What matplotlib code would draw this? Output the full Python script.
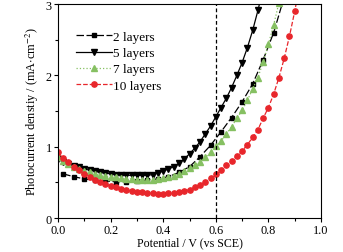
import numpy as np
import matplotlib
matplotlib.use("Agg")
import matplotlib.pyplot as plt
from matplotlib.ticker import MultipleLocator

plt.rcParams['font.family'] = ['Liberation Serif', 'DejaVu Serif']
plt.rcParams['mathtext.fontset'] = 'stix'

# 2 layers (sampled every 0.04 V)
x2 = [0.02, 0.06, 0.10, 0.14, 0.18, 0.22, 0.26, 0.30, 0.34, 0.38, 0.42, 0.46,
      0.50, 0.54, 0.58, 0.62, 0.66, 0.70, 0.74, 0.78, 0.82, 0.86]
y2 = [0.62, 0.58, 0.55, 0.53, 0.52, 0.51, 0.51, 0.52, 0.53, 0.55, 0.58, 0.64,
      0.72, 0.86, 1.02, 1.21, 1.41, 1.63, 1.88, 2.22, 2.60, 3.10]

# 5 layers (every 0.02 V)
x5 = [0.00, 0.02, 0.04, 0.06, 0.08, 0.10, 0.12, 0.14, 0.16, 0.18, 0.20, 0.22,
      0.24, 0.26, 0.28, 0.30, 0.32, 0.34, 0.36, 0.38, 0.40, 0.42, 0.44, 0.46,
      0.48, 0.50, 0.52, 0.54, 0.56, 0.58, 0.60, 0.62, 0.64, 0.66, 0.68, 0.70,
      0.72, 0.74, 0.76, 0.78]
y5 = [0.83, 0.79, 0.76, 0.73, 0.71, 0.69, 0.67, 0.66, 0.64, 0.63, 0.62, 0.61,
      0.60, 0.60, 0.60, 0.60, 0.60, 0.60, 0.61, 0.63, 0.66, 0.69, 0.72, 0.77,
      0.83, 0.90, 0.98, 1.07, 1.18, 1.29, 1.42, 1.55, 1.68, 1.83, 2.00, 2.18,
      2.39, 2.63, 2.91, 3.22]

# 7 layers
x7 = [0.00, 0.02, 0.04, 0.06, 0.08, 0.10, 0.12, 0.14, 0.16, 0.18, 0.20, 0.22,
      0.24, 0.26, 0.28, 0.30, 0.32, 0.34, 0.36, 0.38, 0.40, 0.42, 0.44, 0.46,
      0.48, 0.50, 0.52, 0.54, 0.56, 0.58, 0.60, 0.62, 0.64, 0.66, 0.68, 0.70,
      0.72, 0.74, 0.76, 0.78, 0.80, 0.82, 0.84]
y7 = [0.85, 0.80, 0.76, 0.72, 0.69, 0.66, 0.64, 0.62, 0.60, 0.59, 0.58, 0.57,
      0.56, 0.55, 0.55, 0.54, 0.54, 0.54, 0.54, 0.55, 0.56, 0.57, 0.59, 0.62,
      0.66, 0.70, 0.74, 0.79, 0.85, 0.92, 1.01, 1.08, 1.18, 1.28, 1.40, 1.51,
      1.65, 1.81, 1.97, 2.19, 2.44, 2.71, 3.02]

# 10 layers
x10 = [0.00, 0.02, 0.04, 0.06, 0.08, 0.10, 0.12, 0.14, 0.16, 0.18, 0.20, 0.22,
       0.24, 0.26, 0.28, 0.30, 0.32, 0.34, 0.36, 0.38, 0.40, 0.42, 0.44, 0.46,
       0.48, 0.50, 0.52, 0.54, 0.56, 0.58, 0.60, 0.62, 0.64, 0.66, 0.68, 0.70,
       0.72, 0.74, 0.76, 0.78, 0.80, 0.82, 0.84, 0.86, 0.88, 0.90, 0.92]
y10 = [0.92, 0.84, 0.78, 0.72, 0.67, 0.62, 0.58, 0.54, 0.51, 0.48, 0.45, 0.43,
       0.41, 0.39, 0.38, 0.37, 0.36, 0.35, 0.35, 0.34, 0.34, 0.35, 0.35, 0.36,
       0.38, 0.40, 0.43, 0.47, 0.51, 0.56, 0.62, 0.68, 0.74, 0.80, 0.87, 0.94,
       1.03, 1.13, 1.24, 1.40, 1.55, 1.74, 1.97, 2.24, 2.55, 2.90, 3.30]

fig = plt.figure(figsize=(3.43, 2.53), dpi=100)
ax = fig.add_axes([0.169, 0.134, 0.767, 0.846])

ms = 3.8
ax.plot(x2, y2, color='black', ls=(0, (6, 2)), lw=0.9, marker='s', ms=ms-0.4,
        label='2 layers')
ax.plot(x5, y5, color='black', ls='-', lw=0.9, marker='v', ms=ms,
        label='5 layers')
ax.plot(x7, y7, color='#86c062', ls=':', lw=0.9, marker='^', ms=ms,
        label='7 layers')
ax.plot(x10, y10, color='#e8262b', ls='--', lw=0.9, marker='o', ms=ms,
        label='10 layers')

ax.axvline(0.6, color='black', ls='--', lw=0.9, dashes=(3, 2))

ax.set_xlim(0, 1.0)
ax.set_ylim(0, 3)
ax.xaxis.set_major_locator(MultipleLocator(0.2))
ax.xaxis.set_minor_locator(MultipleLocator(0.1))
ax.yaxis.set_major_locator(MultipleLocator(1))
ax.yaxis.set_minor_locator(MultipleLocator(0.5))
ax.set_xticks([0, 0.2, 0.4, 0.6, 0.8, 1.0])
ax.set_xticklabels(['0.0', '0.2', '0.4', '0.6', '0.8', '1.0'])
ax.tick_params(which='both', direction='out', top=False, right=False,
               labelsize=8.8, width=0.8, pad=1.5)
ax.tick_params(which='major', length=3)
ax.tick_params(which='minor', length=2)
for s in ax.spines.values():
    s.set_linewidth(0.8)

ax.set_xlabel('Potential / V (vs SCE)', fontsize=8.6, labelpad=0)
ax.set_ylabel(r'Photocurrent denstiy / (mA$\cdot$cm$^{-2}$)', fontsize=8.8,
              labelpad=3)

ax.legend(loc='upper left', bbox_to_anchor=(0.07, 0.875), frameon=False,
          fontsize=9.5, handlelength=2.7, handletextpad=0.1, labelspacing=0.3,
          borderaxespad=0, borderpad=0)

fig.savefig('out.png', dpi=100)
